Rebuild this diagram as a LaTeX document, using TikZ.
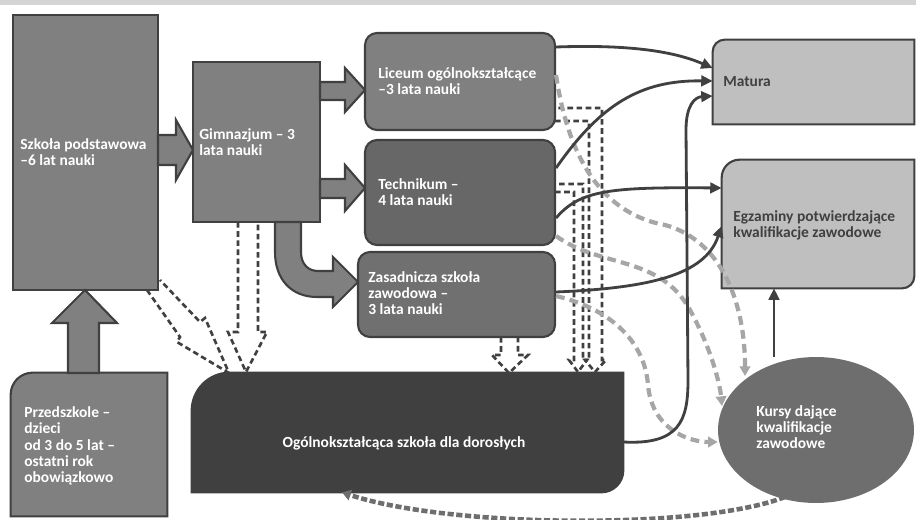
\documentclass[tikz,border=0pt]{standalone}
\usepackage{fontspec}
\setmainfont{Carlito}
\usetikzlibrary{arrows.meta,backgrounds,shapes.geometric}
\definecolor{dk}{HTML}{404040}
\definecolor{midg}{HTML}{808080}
\definecolor{techg}{HTML}{676767}
\definecolor{zasg}{HTML}{707070}
\definecolor{ltg}{HTML}{BFBFBF}
\definecolor{gdash}{HTML}{A6A6A6}
\definecolor{kurg}{HTML}{6E6E6E}
\definecolor{bandg}{HTML}{D4D4D4}
\definecolor{botg}{HTML}{6E6E6E}
\begin{document}
\begin{tikzpicture}[x=0.02cm,y=-0.02cm,
  box/.style={draw=dk,line width=1.2pt,inner sep=0pt},
  rbox/.style={box,rounded corners=0.24cm},
  shp/.style={draw=dk,line width=1.2pt},
  txt/.style={font=\fontsize{8.8}{9}\selectfont\bfseries,text=white,align=left,inner sep=0pt,anchor=west},
  txtd/.style={txt,text=dk},
  sol/.style={draw=dk,line width=1.6pt,-{Triangle[length=6.5pt,width=6pt]}},
  gd/.style={draw=gdash,line width=2.4pt,dash pattern=on 5pt off 3pt,-{Triangle[length=5.5pt,width=6pt]}},
  gdb/.style={draw=botg,line width=2.6pt,dash pattern=on 3.5pt off 1.5pt,-{Triangle[length=5pt,width=6pt]}},
  hd/.style={draw=dk,line width=1.5pt,dash pattern=on 3.2pt off 2pt,line join=miter},
  blk/.style={fill=midg,draw=dk,line width=1.2pt,line join=miter}]
\begin{scope}[on background layer]
  \fill[white] (0,0) rectangle (916,520);
\end{scope}
\useasboundingbox (0,0) rectangle (916,520);
\fill[bandg] (0,0) rectangle (916,5);

% boxes
\node[box,fill=midg,minimum width=2.9cm,minimum height=5.5cm] (sp) at (85.5,152.5) {};
\node[box,fill=midg,minimum width=2.54cm,minimum height=3.2cm] (gim) at (256.5,142) {};
\node[rbox,fill=midg,minimum width=3.8cm,minimum height=1.94cm] (lic) at (460,81.5) {};
\node[rbox,fill=techg,minimum width=3.8cm,minimum height=2.1cm] (tech) at (460,192.5) {};
\node[rbox,fill=zasg,minimum width=3.94cm,minimum height=1.7cm] (zas) at (456.5,294.5) {};
\node[inner sep=0pt,minimum width=4.02cm,minimum height=1.68cm] (mat) at (813.5,82) {};
\node[inner sep=0pt,minimum width=3.84cm,minimum height=2.56cm] (egz) at (818,224) {};
\node[inner sep=0pt,minimum width=3.12cm,minimum height=2.86cm] (prz) at (89,444.5) {};
\node[inner sep=0pt,minimum width=8.62cm,minimum height=2.38cm] (ogo) at (407.5,432.5) {};
\node[ellipse,fill=kurg,inner sep=0pt,minimum width=3.92cm,minimum height=2.92cm] (kur) at (816,430) {};

\begin{scope}[on background layer]
\draw[shp,fill=ltg] (mat.south west) -- ([yshift=-0.24cm]mat.north west) arc[start angle=180,end angle=90,radius=0.24cm] -- (mat.north east) -- (mat.south east) -- cycle;
\draw[shp,fill=ltg] (egz.south west) -- ([yshift=-0.36cm]egz.north west) arc[start angle=180,end angle=90,radius=0.36cm] -- (egz.north east) -- ([yshift=0.24cm]egz.south east) arc[start angle=0,end angle=-90,radius=0.24cm] -- cycle;
\draw[shp,fill=midg] (prz.south west) -- ([yshift=-0.44cm]prz.north west) arc[start angle=180,end angle=90,radius=0.44cm] -- (prz.north east) -- (prz.south east) -- cycle;
\draw[shp,fill=dk] (ogo.south west) -- ([yshift=-0.76cm]ogo.north west) arc[start angle=180,end angle=90,radius=0.76cm] -- (ogo.north east) -- ([yshift=0.44cm]ogo.south east) arc[start angle=0,end angle=-90,radius=0.44cm] -- cycle;
\end{scope}

% texts
\node[txt] (spt) at (20,152) {Szkoła podstawowa\\–6 lat nauki};
\node[txt] (gimt) at (199,142) {Gimnazjum – 3\\lata nauki};
\node[txt] (lict) at (378,81) {Liceum ogólnokształcące\\–3 lata nauki};
\node[txt] (techt) at (378,192) {Technikum –\\4 lata nauki};
\node[txt] (zast) at (368,293) {Zasadnicza szkoła\\zawodowa –\\3 lata nauki};
\node[txtd] (matt) at (723,82) {Matura};
\node[txtd] (egzt) at (733,225) {Egzaminy potwierdzające\\kwalifikacje zawodowe};
\node[txt,font=\fontsize{8.8}{9.3}\selectfont\bfseries] (przt) at (24,446) {Przedszkole –\\dzieci\\od 3 do 5 lat –\\ostatni rok\\obowiązkowo};
\node[txt,anchor=center] (ogot) at (404,443) {Ogólnokształcąca szkoła dla dorosłych};
\node[txt,font=\fontsize{8.8}{9.3}\selectfont\bfseries] (kurt) at (756,427) {Kursy dające\\kwalifikacje\\zawodowe};

% block arrows
\draw[blk] (158,135) -- (176,135) -- (176,120) -- (193,150) -- (176,180) -- (176,165) -- (158,165) -- cycle;
\draw[blk] (320,82) -- (345,82) -- (345,68) -- (365,90) -- (345,112) -- (345,100) -- (320,100) -- cycle;
\draw[blk] (320,179) -- (345,179) -- (345,165) -- (365,188) -- (345,211) -- (345,198) -- (320,198) -- cycle;
\draw[blk] (275,222) -- (275,252) .. controls (275,280) and (292,297) .. (317,297) -- (333,297) -- (333,307) -- (358,282) -- (333,257) -- (333,271) -- (318,271) .. controls (308,271) and (301,264) .. (301,252) -- (301,222) -- cycle;
\draw[blk] (68,373) -- (68,323) -- (52,323) -- (85,290) -- (117,323) -- (99,323) -- (99,373) -- cycle;

% hollow dashed arrows
\draw[hd] (147,290) -- (180,337) -- (177,342) -- (229,373) -- (205,318) -- (200,322) -- (160,280);
\draw[hd] (238,222) -- (238,332) -- (228,332) -- (246,372) -- (267,332) -- (258,332) -- (258,222);
\draw[hd] (501,337) -- (501,355) -- (492,355) -- (509,373) -- (528,355) -- (518,355) -- (518,337);
\draw[hd] (555,121) -- (589,121) -- (589,360) -- (585,360) -- (595,372) -- (606,360) -- (602,360) -- (602,108) -- (555,108);
\draw[hd] (555,192) -- (574,192) -- (574,360) -- (569,360) -- (578,372) -- (587,360) -- (583,360) -- (583,184) -- (555,184);

% grey dashed curves
\draw[gd] (lic.east |- 0,75) .. controls (570,170) and (610,215) .. (665,225) .. controls (720,240) and (745,300) .. (745,376);
\draw[gd] (tech.east |- 0,236) .. controls (600,268) and (660,255) .. (690,310) .. controls (712,350) and (720,385) .. (722,406);
\draw[gd] (zas.east |- 0,296) .. controls (615,310) and (645,345) .. (648,385) .. controls (652,430) and (690,442) .. (kur.west |- 0,442);
\draw[gdb] (785,497) .. controls (700,530) and (450,528) .. (ogo.south -| 342,0);

% solid arrows
\draw[sol] (lic.east |- 0,47) .. controls (640,44) and (680,54) .. (mat.west |- 0,68);
\draw[sol] (tech.east |- 0,168) .. controls (600,105) and (640,80) .. (mat.west |- 0,81);
\draw[sol] (ogo.east |- 0,442) .. controls (680,445) and (688,420) .. (688,380) -- (686,130) .. controls (686,105) and (695,97) .. (mat.west |- 0,96);
\draw[sol] (tech.east |- 0,218) .. controls (580,190) and (610,187) .. (egz.west |- 0,188);
\draw[sol] (zas.east |- 0,292) .. controls (650,288) and (705,275) .. (egz.west |- 0,226);
\draw[sol] (kur.north -| 774,0) -- (egz.south -| 774,0);
\end{tikzpicture}
\end{document}
